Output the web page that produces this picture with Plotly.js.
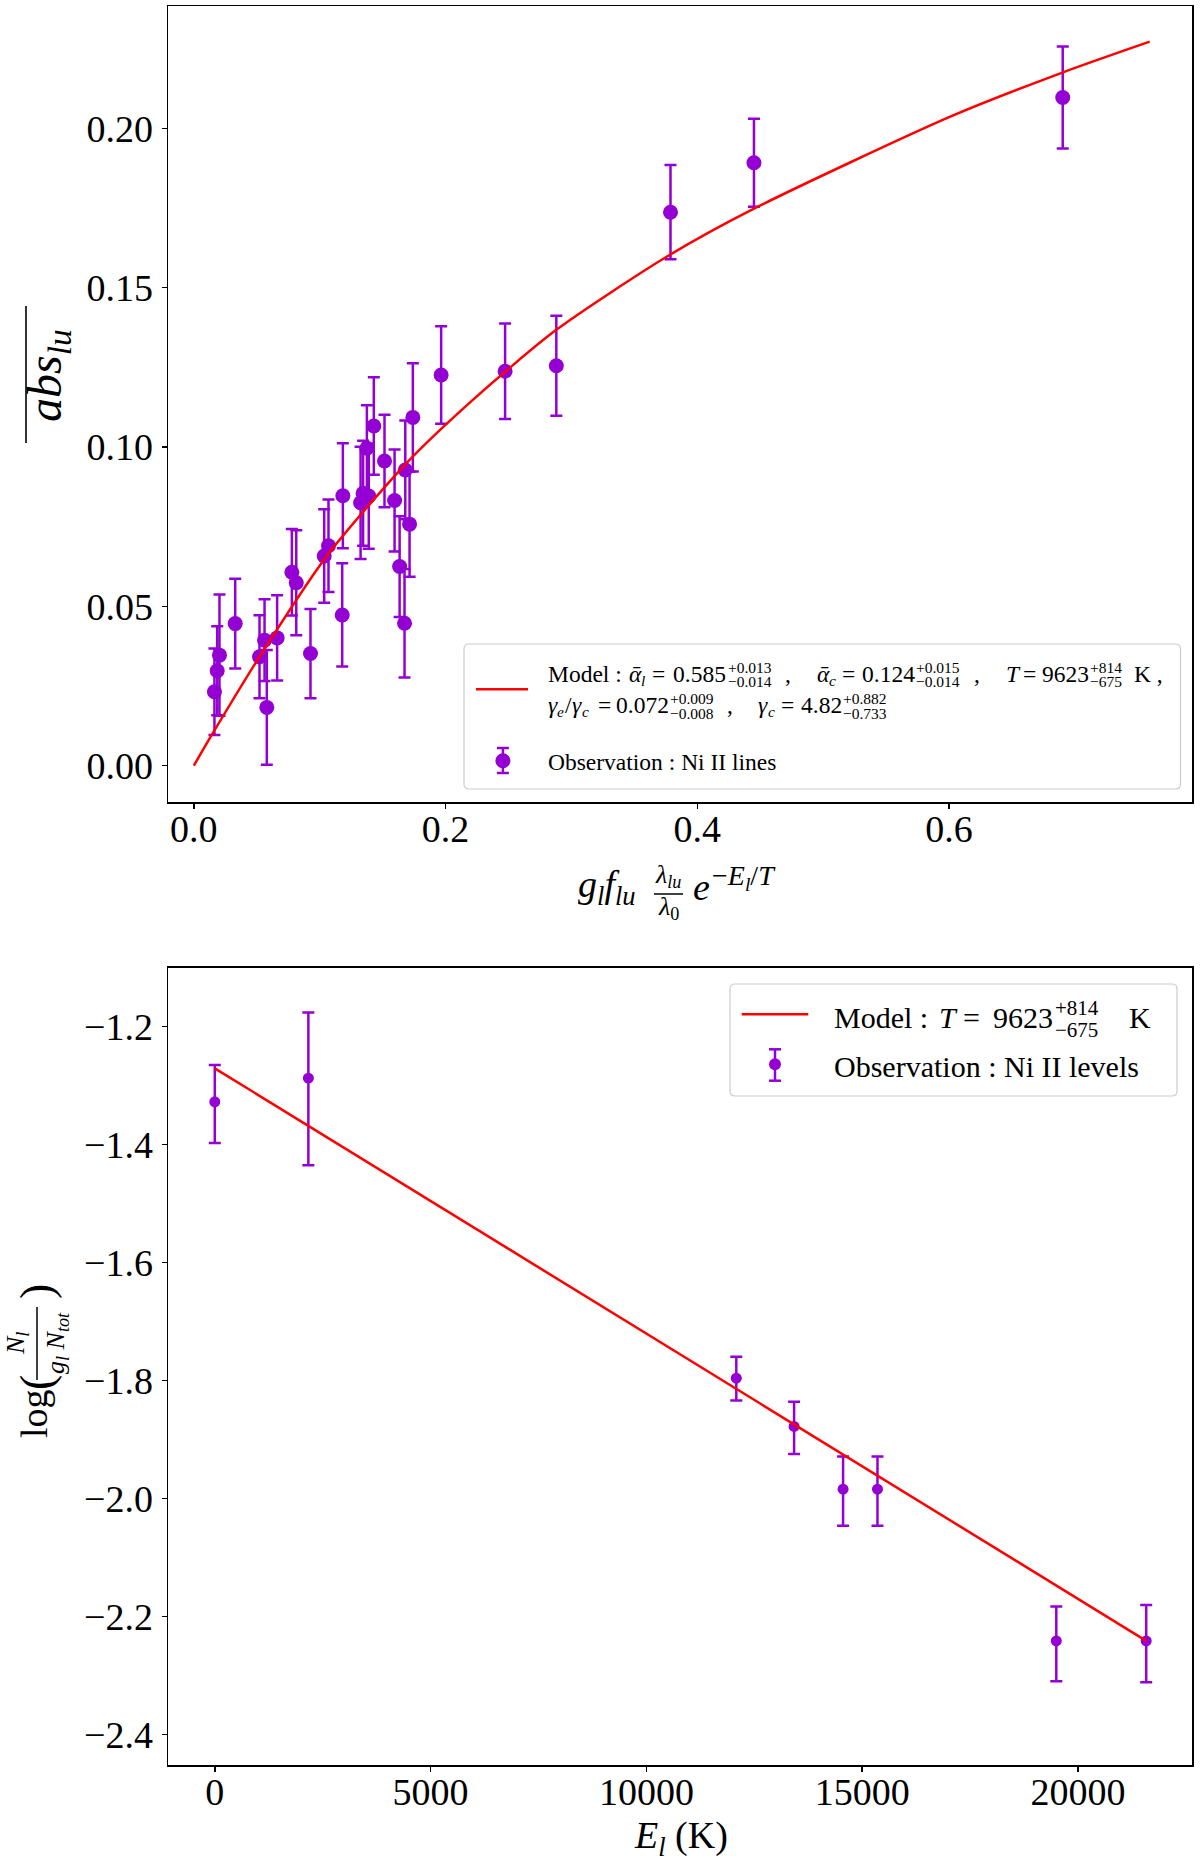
<!DOCTYPE html>
<html>
<head>
<meta charset="utf-8">
<script src="https://cdn.plot.ly/plotly-3.0.1.min.js"></script>
<style>body{margin:0;background:#fff}</style>
</head>
<body>
<div id="chart" style="width:1200px;height:1863px"></div>
<script>
// Ni II lines: g_l f_lu (lambda_lu/lambda_0) exp(-E_l/T) vs mean absorption
const linesX = [0.0164, 0.0186, 0.0204, 0.0329, 0.0522, 0.0562, 0.0580, 0.0662, 0.0779, 0.0814,
                0.0927, 0.1036, 0.1070, 0.1179, 0.1184, 0.1325, 0.1345, 0.1390, 0.1375, 0.1430,
                0.1515, 0.1595, 0.1635, 0.1680, 0.1674, 0.1714, 0.1740, 0.1965, 0.2473, 0.2880,
                0.3787, 0.4450, 0.6903];
const linesAbs = [0.0232, 0.0298, 0.0347, 0.0446, 0.0342, 0.0394, 0.0183, 0.0401, 0.0607, 0.0574,
                  0.0352, 0.0658, 0.0690, 0.0473, 0.0847, 0.0825, 0.0855, 0.0846, 0.0996, 0.1066,
                  0.0956, 0.0832, 0.0625, 0.0928, 0.0447, 0.0758, 0.1093, 0.1226, 0.1238, 0.1255,
                  0.1737, 0.1892, 0.2097];
const linesErr = [0.0136, 0.0140, 0.0190, 0.0141, 0.0130, 0.0128, 0.0180, 0.0134, 0.0136, 0.0165,
                  0.0140, 0.0147, 0.0145, 0.0162, 0.0165, 0.0176, 0.0165, 0.0165, 0.0135, 0.0153,
                  0.0145, 0.0160, 0.0158, 0.0155, 0.0170, 0.0165, 0.0170, 0.0153, 0.0150, 0.0157,
                  0.0148, 0.0138, 0.0160];
// model curve
const modelX = [0, 0.0151, 0.0522, 0.1052, 0.1688, 0.2217, 0.2877, 0.3756, 0.445, 0.6005, 0.69, 0.7594];
const modelAbs = [0, 0.0102, 0.0342, 0.0656, 0.0949, 0.1148, 0.1367, 0.1597, 0.1748, 0.2036, 0.2175, 0.2272];

// Ni II levels: E_l (K) vs log(N_l / g_l N_tot)
const levelsE = [0, 2168, 12083, 13422, 14557, 15354, 19497, 21580];
const levelsLogN = [-1.3277, -1.2876, -1.7960, -1.8778, -1.9840, -1.9840, -2.2412, -2.2412];
const levelsErrUp = [0.0622, 0.1113, 0.0365, 0.0420, 0.0555, 0.0555, 0.0585, 0.0610];
const levelsErrDown = [0.0700, 0.1474, 0.0380, 0.0465, 0.0620, 0.0620, 0.0683, 0.0700];
const boltzE = [0, 21580];
const boltzLogN = [-1.271, -2.241];

const absTicks = [0, 0.05, 0.10, 0.15, 0.20];
const gfTicks = [0, 0.2, 0.4, 0.6];
const eTicks = [0, 5000, 10000, 15000, 20000];
const logTicks = [-2.4, -2.2, -2.0, -1.8, -1.6, -1.4, -1.2];

const PURPLE = '#9400d3';
const RED = '#ff0000';
const SERIF = '"Liberation Serif", "Times New Roman", serif';

// pixel -> paper coords
const W = 1200, H = 1863;
const M = {l: 168, r: 8, t: 6, b: 98};
function pos(X, Y) {
    return {x: (X - M.l) / (W - M.l - M.r), y: (H - M.b - Y) / (H - M.t - M.b)};
}

let annotations = [];
let shapes = [];

function label(X, Y, s, size, extra={}) {
    let p = pos(X, Y);
    annotations.push(Object.assign({
        xref: 'paper', yref: 'paper', x: p.x, y: p.y, text: s, showarrow: false,
        xanchor: 'left', yanchor: 'middle', borderpad: 0,
        font: {family: SERIF, size: size, color: 'black'}
    }, extra));
}

function seg(X0, Y0, X1, Y1, color, w) {
    let a = pos(X0, Y0), b = pos(X1, Y1);
    shapes.push({type: 'line', xref: 'paper', yref: 'paper', x0: a.x, y0: a.y, x1: b.x, y1: b.y,
                 line: {color: color, width: w}});
}

function dot(X, Y, d, color) {
    let a = pos(X - d / 2, Y + d / 2), b = pos(X + d / 2, Y - d / 2);
    shapes.push({type: 'circle', xref: 'paper', yref: 'paper', x0: a.x, y0: a.y, x1: b.x, y1: b.y,
                 fillcolor: color, line: {color: color, width: 0}});
}

function roundBox(X0, Y0, X1, Y1, r) {
    const pts = [
        ['M', X0 + r, Y0], ['L', X1 - r, Y0], ['Q', X1, Y0, X1, Y0 + r],
        ['L', X1, Y1 - r], ['Q', X1, Y1, X1 - r, Y1], ['L', X0 + r, Y1],
        ['Q', X0, Y1, X0, Y1 - r], ['L', X0, Y0 + r], ['Q', X0, Y0, X0 + r, Y0]
    ];
    let d = pts.map(p => {
        let s = p[0];
        for (let i = 1; i < p.length; i += 2) {
            let q = pos(p[i], p[i + 1]);
            s += q.x.toFixed(5) + ',' + q.y.toFixed(5) + ' ';
        }
        return s;
    }).join('') + 'Z';
    shapes.push({type: 'path', xref: 'paper', yref: 'paper', path: d,
                 line: {color: '#cccccc', width: 1.2}, fillcolor: 'rgba(255,255,255,0.8)'});
}

function errIcon(X, Ytop, Ybot, Ydot, d) {
    seg(X, Ytop, X, Ybot, PURPLE, 2.5);
    seg(X - 6, Ytop, X + 6, Ytop, PURPLE, 2.5);
    seg(X - 6, Ybot, X + 6, Ybot, PURPLE, 2.5);
    dot(X, Ydot, d, PURPLE);
}

// stacked +/- scripts
function pm(X, Yup, Ydn, up, dn, size) {
    label(X, Yup, up, size);
    label(X, Ydn, dn, size);
}

// ---- top legend ----
roundBox(464, 644, 1180.5, 789, 5);
seg(476, 689.3, 528, 689.3, RED, 2.5);
errIcon(502.9, 748, 773, 760.7, 15);
{
    const F = 23.5, S = 15.5;
    let y1 = 673.7, y2 = 704.5;
    label(546.7, y1, 'Model :', F);
    label(628.4, y1, '<i>ᾱ</i>', F);
    label(640, y1 + 7, '<i>l</i>', S);
    label(651, y1, '=', F);
    label(671.8, y1, '0.585', F);
    pm(726.5, 667, 681.5, '+0.013', '−0.014', S);
    label(784, y1, ',', F);
    label(815.7, y1, '<i>ᾱ</i>', F);
    label(827.5, y1 + 7, '<i>c</i>', S);
    label(841, y1, '=', F);
    label(860.6, y1, '0.124', F);
    pm(915, 667, 681.5, '+0.015', '−0.014', S);
    label(973, y1, ',', F);
    label(1004.5, y1, '<i>T</i>', F);
    label(1022, y1, '=', F);
    label(1041, y1, '9623', F);
    pm(1089, 667, 681.5, '+814', '−675', S);
    label(1133, y1, 'K ,', F);

    label(546.7, y2, '<i>γ</i>', F);
    label(556, y2 + 7, '<i>e</i>', S);
    label(564, y2, '/', F);
    label(571, y2, '<i>γ</i>', F);
    label(581, y2 + 7, '<i>c</i>', S);
    label(597, y2, '=', F);
    label(615, y2, '0.072', F);
    pm(669, 699, 713.5, '+0.009', '−0.008', S);
    label(726, y2, ',', F);
    label(756.7, y2, '<i>γ</i>', F);
    label(767, y2 + 7, '<i>c</i>', S);
    label(780, y2, '=', F);
    label(800, y2, '4.82', F);
    pm(842, 699, 713.5, '+0.882', '−0.733', S);

    label(546.7, 761.7, 'Observation : Ni II lines', F);
}

// ---- bottom legend ----
roundBox(730, 984, 1177, 1096, 5);
seg(741.7, 1014.3, 808.3, 1014.3, RED, 2.5);
errIcon(775, 1049.3, 1080.7, 1064.3, 12);
{
    const F = 30, S = 21;
    let y1 = 1017.5;
    label(833.3, y1, 'Model :', F);
    label(938, y1, '<i>T</i>', F);
    label(962, y1, '=', F);
    label(992, y1, '9623', F);
    pm(1054, 1008, 1029.5, '+814', '−675', S);
    label(1128, y1, 'K', F);
    label(833.3, 1066, 'Observation : Ni II levels', F);
}

// ---- axis titles ----
// top y: overlined abs_lu
label(48, 376, '<i>abs<sub>lu</sub></i>', 48, {xanchor: 'center', textangle: -90});
seg(26, 306, 26, 443, 'black', 1.6);
// top x: g_l f_lu (lambda_lu / lambda_0) e^{-E_l/T}
label(577, 887, '<i>g<sub>l</sub>f<sub>lu</sub></i>', 38);
label(668, 876, '<i>λ<sub>lu</sub></i>', 26, {xanchor: 'center'});
seg(654, 894, 683, 894, 'black', 1.5);
label(668, 908, '<i>λ</i><sub>0</sub>', 26, {xanchor: 'center'});
label(692, 887, '<i>e</i>', 38);
label(711, 877, '−<i>E<sub>l</sub></i>/<i>T</i>', 28);
// bottom x
label(681, 1838, '<i>E<sub>l</sub></i> (K)', 38, {xanchor: 'center'});
// bottom y: log(N_l / g_l N_tot)
label(34, 1414, 'log', 38, {xanchor: 'center', textangle: -90});
label(36, 1383, '(', 46, {xanchor: 'center', textangle: -90});
label(17, 1344, '<i>N<sub>l</sub></i>', 26, {xanchor: 'center', textangle: -90});
seg(37, 1307, 37, 1380, 'black', 1.5);
label(57, 1343, '<i>g<sub>l</sub> N<sub>tot</sub></i>', 26, {xanchor: 'center', textangle: -90});
label(36, 1292, ')', 46, {xanchor: 'center', textangle: -90});

const traces = [
    {
        x: linesX, y: linesAbs, xaxis: 'x', yaxis: 'y', type: 'scatter', mode: 'markers',
        marker: {color: PURPLE, size: 15},
        error_y: {type: 'data', array: linesErr, visible: true, color: PURPLE, thickness: 2.5, width: 6}
    },
    {
        x: modelX, y: modelAbs, xaxis: 'x', yaxis: 'y', type: 'scatter', mode: 'lines',
        line: {color: RED, width: 2.5, shape: 'spline', smoothing: 0.7}
    },
    {
        x: levelsE, y: levelsLogN, xaxis: 'x2', yaxis: 'y2', type: 'scatter', mode: 'markers',
        marker: {color: PURPLE, size: 11},
        error_y: {type: 'data', symmetric: false, array: levelsErrUp, arrayminus: levelsErrDown,
                  visible: true, color: PURPLE, thickness: 2.5, width: 6}
    },
    {
        x: boltzE, y: boltzLogN, xaxis: 'x2', yaxis: 'y2', type: 'scatter', mode: 'lines',
        line: {color: RED, width: 2.5}
    }
];

function axis(extra) {
    return Object.assign({
        showline: true, mirror: true, linecolor: 'black', linewidth: 1.5,
        ticks: 'outside', ticklen: 5, tickwidth: 1.5, tickcolor: 'black',
        showgrid: false, zeroline: false,
        tickfont: {family: SERIF, size: 38, color: 'black'}
    }, extra);
}

const layout = {
    width: W, height: H,
    margin: M,
    paper_bgcolor: 'white', plot_bgcolor: 'white',
    showlegend: false,
    xaxis: axis({domain: [0, 1], anchor: 'y', range: [-0.0205, 0.793],
                 tickvals: gfTicks, tickformat: '.1f', ticklabelstandoff: -12}),
    yaxis: axis({domain: [0.54747, 1], anchor: 'x', range: [-0.01139, 0.2384],
                 tickvals: absTicks, tickformat: '.2f', ticklabelstandoff: 1}),
    xaxis2: axis({domain: [0, 1], anchor: 'y2', range: [-1084, 22641],
                  tickvals: eTicks, tickformat: 'd', ticklabelstandoff: -12}),
    yaxis2: axis({domain: [0, 0.4531], anchor: 'x2', range: [-2.4514, -1.101],
                  tickvals: logTicks, tickformat: '.1f', ticklabelstandoff: 1}),
    annotations: annotations,
    shapes: shapes
};

Plotly.newPlot('chart', traces, layout, {displayModeBar: false, staticPlot: true});
</script>
</body>
</html>
